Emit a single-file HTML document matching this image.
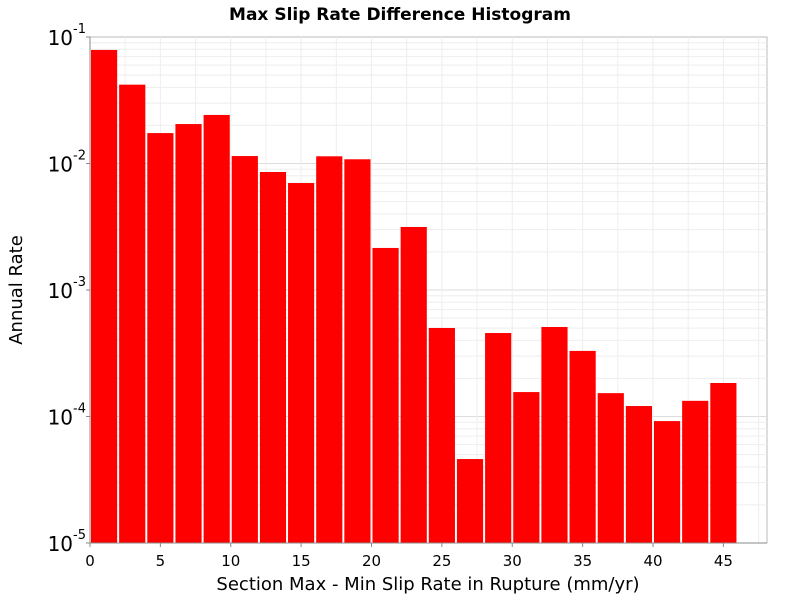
<!DOCTYPE html>
<html><head><meta charset="utf-8"><style>
body{margin:0;background:#fff;font-family:"Liberation Sans","DejaVu Sans",sans-serif}
</style></head><body>
<svg id="chart" width="800" height="600" xmlns="http://www.w3.org/2000/svg" font-family="DejaVu Sans, Liberation Sans, sans-serif">
<text x="400" y="20" text-anchor="middle" font-size="17" font-weight="bold">Max Slip Rate Difference Histogram</text>
<g id="grid"></g>
<g id="bars"></g>
<g id="axes"></g>
<text x="428" y="590" text-anchor="middle" font-size="18">Section Max - Min Slip Rate in Rupture (mm/yr)</text>
<text transform="translate(22,290) rotate(-90)" text-anchor="middle" font-size="18">Annual Rate</text>
</svg>
<script>
const binCenters=[1,3,5,7,9,11,13,15,17,19,21,23,25,27,29,31,33,35,37,39,41,43,45];
const rates=[0.079,0.042,0.0174,0.0205,0.0242,0.01145,0.00857,0.00701,0.0114,0.0108,0.00215,0.00315,0.000501,0.0000461,0.000457,0.000156,0.00051,0.00033,0.000153,0.000121,0.000092,0.000133,0.000184];
const xTicks=[0,5,10,15,20,25,30,35,40,45];
const yExps=[-1,-2,-3,-4,-5];
const L=90,R=767,T=37,B=543,xMax=48.1;
const sx=v=>L+(v/xMax)*(R-L);
const sy=v=>T+(-1-Math.log10(v))/4*(B-T);
const NS="http://www.w3.org/2000/svg";
function mk(t,a,p){const e=document.createElementNS(NS,t);for(const k in a)e.setAttribute(k,a[k]);p.appendChild(e);return e;}
const grid=document.getElementById('grid'),bars=document.getElementById('bars'),axes=document.getElementById('axes');
mk('rect',{x:L,y:T,width:R-L,height:B-T,fill:'#fff',stroke:'#bbb'},grid);
for(let e=-5;e<-1;e++)for(let m=1;m<10;m++){const y=sy(m*Math.pow(10,e));const ln=mk('line',{x1:L,x2:R,y1:y,y2:y,stroke:m==1?'#ddd':'#eee'},grid);}
for(let v=0;v<=xMax;v+=2.5){const x=sx(v);const ln=mk('line',{x1:x,x2:x,y1:T,y2:B,stroke:'#eee'},grid);}
binCenters.forEach((c,i)=>{const x0=sx(c-0.93),x1=sx(c+0.93),y=sy(rates[i]);const r=mk('rect',{x:x0,y:y,width:x1-x0,height:B-y,fill:'#ff0000'},bars);});
mk('line',{x1:L,x2:R,y1:B,y2:B,stroke:'#888'},axes);
mk('line',{x1:L,x2:L,y1:T,y2:B,stroke:'#888'},axes);
xTicks.forEach(v=>{const x=sx(v);mk('line',{x1:x,x2:x,y1:B,y2:B+4,stroke:'#888'},axes);const t=mk('text',{x:x,y:B+23,'text-anchor':'middle','font-size':'15'},axes);t.textContent=v;});
yExps.forEach(e=>{const y=sy(Math.pow(10,e));mk('line',{x1:L-4,x2:L,y1:y,y2:y,stroke:'#888'},axes);const t=mk('text',{x:L-4,y:y+8,'text-anchor':'end','font-size':'20'},axes);t.innerHTML='10<tspan font-size="13" dy="-12">'+(e<0?'-':'')+Math.abs(e)+'</tspan>';});
</script>
</body></html>
